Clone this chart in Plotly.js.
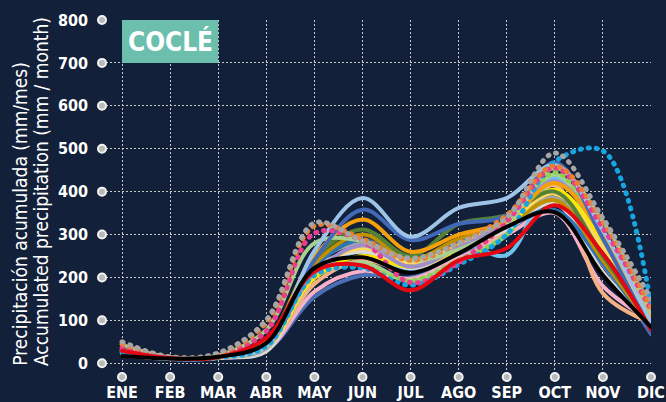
<!DOCTYPE html>
<html>
<head>
<meta charset="utf-8">
<script src="https://cdn.plot.ly/plotly-3.0.1.min.js"></script>
<style>
  html, body { margin: 0; padding: 0; background: #13203a; }
  #chart { width: 666px; height: 402px; }
  .scatterlayer .js-line { stroke-linecap: round !important; stroke-linejoin: round !important; }
</style>
</head>
<body>
<div id="chart"></div>
<script>
// ---- DATA ----
const months = ["ENE","FEB","MAR","ABR","MAY","JUN","JUL","AGO","SEP","OCT","NOV","DIC"];
const yTicks = [0,100,200,300,400,500,600,700,800];
const regionName = "COCLÉ";
const titleEs = "Precipitación acumulada (mm/mes)";
const titleEn = "Accumulated precipitation (mm / month)";

const sLightBlue  = [30, 12, 14, 40, 262, 385, 295, 362, 385, 462, 310, 95];
const sDarkBlue   = [25, 12, 14, 40, 240, 358, 287, 325, 345, 468, 290, 72];
const sOrange     = [28, 13, 15, 50, 250, 335, 260, 300, 330, 420, 300, 100];
const sOlive      = [30, 13, 16, 55, 245, 312, 250, 325, 345, 400, 250, 90];
const sGold       = [25, 12, 14, 50, 232, 300, 242, 290, 322, 380, 240, 85];
const sBlue       = [22, 11, 13, 45, 225, 288, 235, 282, 320, 357, 232, 80];
const sGray       = [25, 12, 14, 35, 230, 280, 230, 275, 320, 385, 230, 95];
const sLightYel   = [22, 11, 13, 40, 212, 268, 235, 275, 330, 395, 270, 110];
const sLightGray  = [20, 11, 14, 28, 220, 260, 222, 262, 312, 372, 212, 90];
const sGreenA     = [43, 14, 18, 78, 280, 285, 240, 265, 322, 455, 330, 120];
const sGreenB     = [30, 12, 15, 45, 200, 235, 192, 240, 300, 440, 290, 100];
const sYellow     = [22, 11, 13, 39, 199, 250, 225, 265, 320, 405, 285, 120];
const sPink       = [20, 10, 12, 31, 167, 215, 197, 245, 300, 350, 180, 100];
const sPeach      = [25, 11, 13, 35, 185, 240, 215, 260, 310, 415, 163, 95];
const sPurple     = [28, 12, 14, 45, 210, 275, 225, 270, 330, 425, 300, 140];
const sSky        = [25, 11, 13, 40, 200, 262, 215, 282, 252, 432, 280, 100];
const sNavyLow    = [18, 10, 12, 30, 155, 205, 200, 250, 305, 355, 230, 68];
const sRed        = [29, 12, 14, 59, 214, 228, 170, 240, 268, 368, 255, 78];
const sBlack      = [17, 11, 15, 47, 222, 247, 211, 256, 318, 352, 205, 85];
const dGray       = [50, 15, 24, 101, 327, 285, 245, 280, 340, 490, 338, 150];
const dOrange     = [45, 15, 22, 95, 320, 290, 240, 280, 345, 460, 330, 130];
const dPink       = [36, 13, 18, 75, 303, 285, 188, 235, 330, 455, 315, 125];
const dBlue       = [25, 11, 13, 40, 205, 222, 182, 230, 300, 470, 495, 135];
const dGreen      = [30, 12, 15, 50, 210, 225, 192, 240, 300, 445, 300, 110];

// ---- STYLE ----
const series = [
  [sNavyLow, '#4a6fb5', 'solid'],
  [sPink, '#f6b1c8', 'solid'],
  [sPeach, '#f4b183', 'solid'],
  [sSky, '#6cc4ee', 'solid'],
  [sGreenB, '#a9d18e', 'solid'],
  [dGreen, '#92d050', 'dot'],
  [sLightGray, '#d9d9d9', 'solid'],
  [sGray, '#a5a5a5', 'solid'],
  [sBlue, '#2e75b6', 'solid'],
  [sGold, '#bf9000', 'solid'],
  [sYellow, '#ffe600', 'solid'],
  [sLightYel, '#ffd966', 'solid'],
  [sPurple, '#9e8fca', 'solid'],
  [sOlive, '#548235', 'solid'],
  [sOrange, '#f5a00a', 'solid'],
  [sGreenA, '#a9d18e', 'solid'],
  [sDarkBlue, '#4169b8', 'solid'],
  [sLightBlue, '#9dc3e6', 'solid'],
  [dBlue, '#18a4e0', 'dot'],
  [dPink, '#ea3d8f', 'dot'],
  [dOrange, '#ed7d31', 'dot'],
  [dGray, '#a6a6a6', 'dot'],
  [sRed, '#e30613', 'solid'],
  [sBlack, '#000000', 'solid']
];

const xIdx = months.map((m, i) => i);
const traces = series.map(([vals, color, kind]) => ({
  type: 'scatter', mode: 'lines', x: xIdx, y: vals, hoverinfo: 'skip',
  cliponaxis: false,
  line: { color: color, width: kind === 'dot' ? 5 : 4, shape: 'spline', smoothing: 1,
          dash: kind === 'dot' ? '1px,7px' : 'solid' }
}));

// tick circles
const tickMarker = { color: '#b9b9b9', size: 8, line: { color: '#f2f2f2', width: 2 } };
traces.push({ type: 'scatter', mode: 'markers', x: yTicks.map(() => -0.417), y: yTicks,
  marker: tickMarker, cliponaxis: false, hoverinfo: 'skip' });
traces.push({ type: 'scatter', mode: 'markers', x: xIdx, y: xIdx.map(() => -32),
  marker: tickMarker, cliponaxis: false, hoverinfo: 'skip' });

const condensed = '"Liberation Sans Narrow", "DejaVu Sans Condensed", "Arial Narrow", sans-serif';

const layout = {
  width: 666, height: 402,
  paper_bgcolor: '#13203a', plot_bgcolor: '#13203a',
  showlegend: false,
  margin: { l: 102, r: 15, t: 20, b: 25 },
  xaxis: {
    range: [-0.417, 11], tickvals: xIdx, ticktext: months,
    showgrid: true, gridcolor: '#c9c9c9', griddash: '2px,2px', gridwidth: 1,
    zeroline: false, showline: false, ticks: '', ticklabelstandoff: 4,
    tickfont: { family: condensed, size: 16, color: '#ffffff', weight: 'bold' }
  },
  yaxis: {
    range: [-32, 800], tickvals: yTicks,
    showgrid: true, gridcolor: '#c9c9c9', griddash: '2px,2px', gridwidth: 1,
    zeroline: false, showline: false, ticks: '', ticklabelstandoff: 13,
    tickfont: { family: condensed, size: 16, color: '#ffffff', weight: 'bold' }
  },
  shapes: [{
    type: 'rect', xref: 'x', yref: 'y', x0: 0, x1: 2, y0: 700, y1: 800,
    fillcolor: '#6cbfac', line: { width: 0 }, layer: 'between'
  }],
  annotations: [
    { xref: 'x', yref: 'y', x: 1, y: 750, text: regionName, showarrow: false,
      font: { family: condensed, size: 26, color: '#ffffff', weight: 'bold' } },
    { xref: 'paper', yref: 'paper', x: -0.150, y: 0.025, xanchor: 'center', yanchor: 'bottom',
      textangle: -90, showarrow: false, text: titleEs,
      font: { family: condensed, size: 19, color: '#ffffff' } },
    { xref: 'paper', yref: 'paper', x: -0.112, y: 0.025, xanchor: 'center', yanchor: 'bottom',
      textangle: -90, showarrow: false, text: titleEn,
      font: { family: condensed, size: 19, color: '#ffffff' } }
  ]
};

Plotly.newPlot('chart', traces, layout, { displayModeBar: false, staticPlot: true });
</script>
</body>
</html>
